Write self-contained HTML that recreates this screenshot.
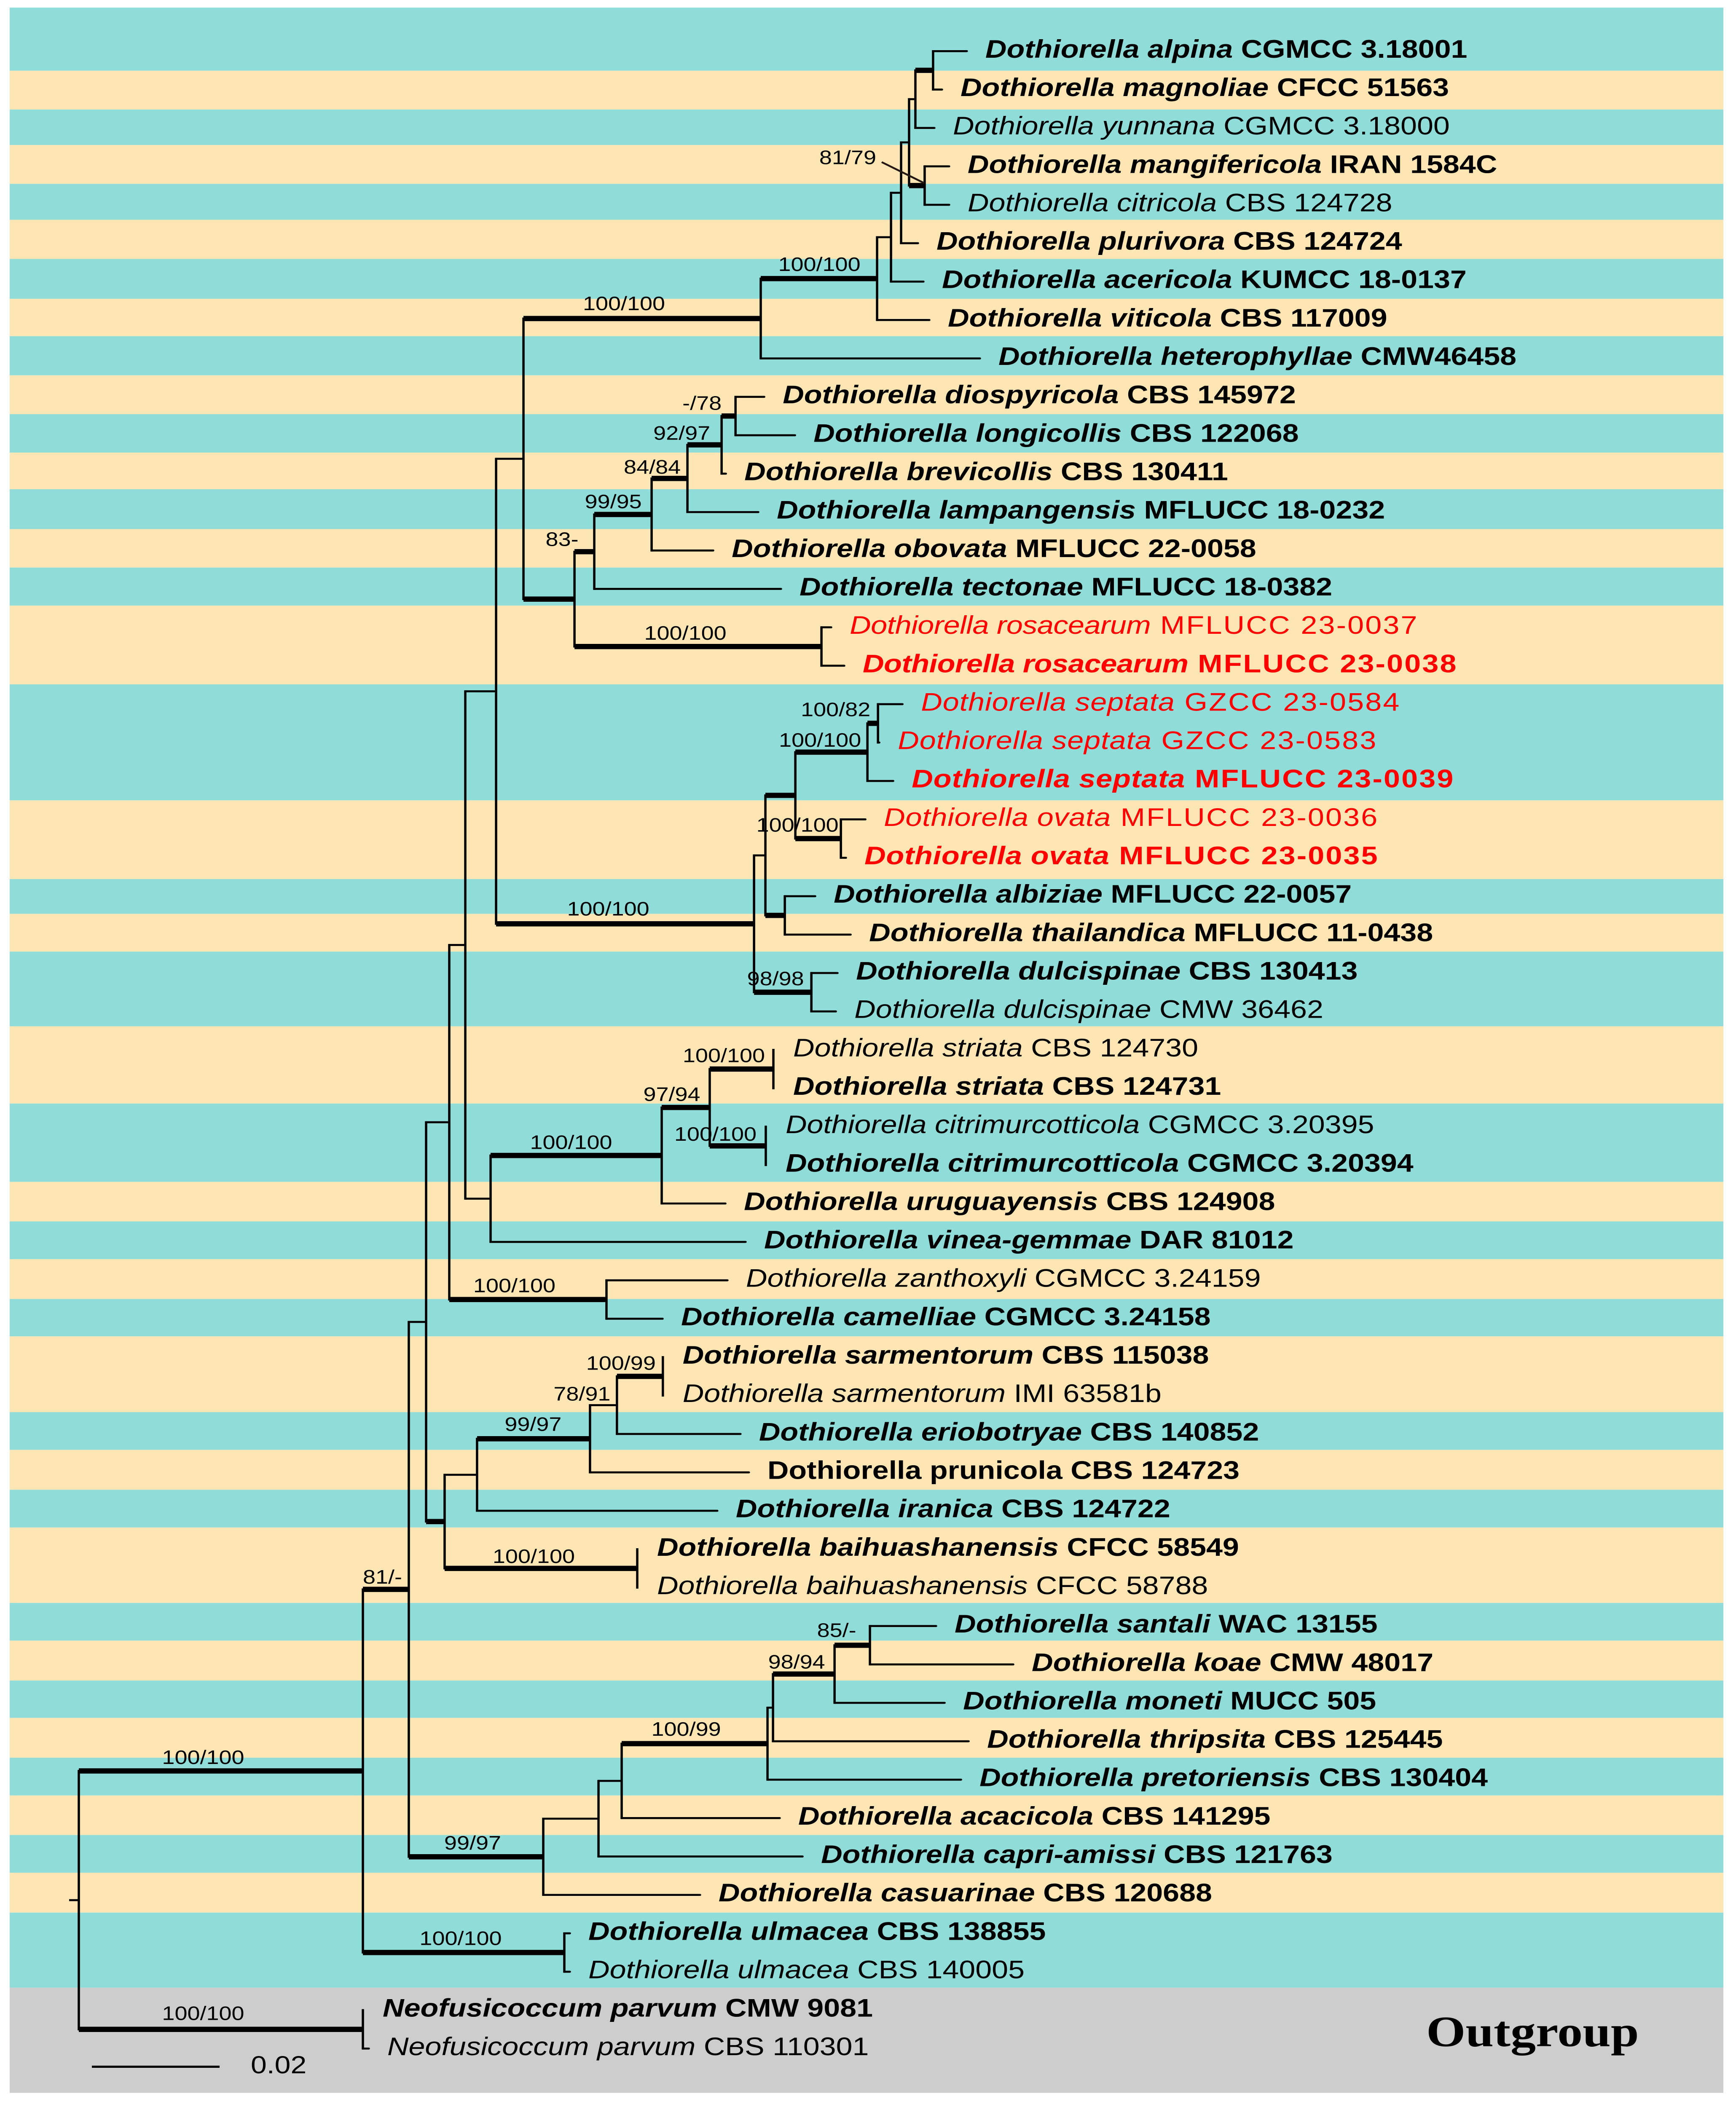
<!DOCTYPE html>
<html lang="en">
<head>
<meta charset="utf-8">
<title>Dothiorella phylogenetic tree</title>
<style>
html,body{margin:0;padding:0;background:#fff;width:4119px;height:100vh;overflow:hidden}
svg{display:block;position:absolute;left:0;top:0;width:4119px;height:100vh}
.t{fill:#8fdcd8}.c{fill:#fee6b4}.g{fill:#cdcdcd}
text{font-family:"Liberation Sans",sans-serif}
</style>
</head>
<body>
<svg id="chart" xmlns="http://www.w3.org/2000/svg" viewBox="0 0 4119 5810" preserveAspectRatio="none">
<rect width="4119" height="5810" fill="#fff"/>
<g>
<rect class="t" x="23" width="4066" y="21" height="174"/>
<rect class="c" x="23" width="4066" y="195" height="107"/>
<rect class="t" x="23" width="4066" y="302" height="98"/>
<rect class="c" x="23" width="4066" y="400" height="107"/>
<rect class="t" x="23" width="4066" y="507" height="99"/>
<rect class="c" x="23" width="4066" y="606" height="108"/>
<rect class="t" x="23" width="4066" y="714" height="110"/>
<rect class="c" x="23" width="4066" y="824" height="103"/>
<rect class="t" x="23" width="4066" y="927" height="108"/>
<rect class="c" x="23" width="4066" y="1035" height="107"/>
<rect class="t" x="23" width="4066" y="1142" height="106"/>
<rect class="c" x="23" width="4066" y="1248" height="101"/>
<rect class="t" x="23" width="4066" y="1349" height="110"/>
<rect class="c" x="23" width="4066" y="1459" height="106"/>
<rect class="t" x="23" width="4066" y="1565" height="105"/>
<rect class="c" x="23" width="4066" y="1670" height="217"/>
<rect class="t" x="23" width="4066" y="1887" height="320"/>
<rect class="c" x="23" width="4066" y="2207" height="217"/>
<rect class="t" x="23" width="4066" y="2424" height="96"/>
<rect class="c" x="23" width="4066" y="2520" height="104"/>
<rect class="t" x="23" width="4066" y="2624" height="206"/>
<rect class="c" x="23" width="4066" y="2830" height="213"/>
<rect class="t" x="23" width="4066" y="3043" height="216"/>
<rect class="c" x="23" width="4066" y="3259" height="109"/>
<rect class="t" x="23" width="4066" y="3368" height="104"/>
<rect class="c" x="23" width="4066" y="3472" height="110"/>
<rect class="t" x="23" width="4066" y="3582" height="103"/>
<rect class="c" x="23" width="4066" y="3685" height="209"/>
<rect class="t" x="23" width="4066" y="3894" height="104"/>
<rect class="c" x="23" width="4066" y="3998" height="110"/>
<rect class="t" x="23" width="4066" y="4108" height="104"/>
<rect class="c" x="23" width="4066" y="4212" height="208"/>
<rect class="t" x="23" width="4066" y="4420" height="104"/>
<rect class="c" x="23" width="4066" y="4524" height="110"/>
<rect class="t" x="23" width="4066" y="4634" height="103"/>
<rect class="c" x="23" width="4066" y="4737" height="110"/>
<rect class="t" x="23" width="4066" y="4847" height="104"/>
<rect class="c" x="23" width="4066" y="4951" height="109"/>
<rect class="t" x="23" width="4066" y="5060" height="104"/>
<rect class="c" x="23" width="4066" y="5164" height="110"/>
<rect class="t" x="23" width="4066" y="5274" height="207"/>
<rect class="g" x="23" width="4066" y="5481" height="290"/>
</g>
<g id="tree"></g>
<g id="supports"></g>
<g id="taxa"></g>
<line x1="2092" y1="447" x2="2193" y2="505" stroke="#231815" stroke-width="5"/>
<line x1="218" y1="5699" x2="521" y2="5699" stroke="#000" stroke-width="6"/>
<text x="595" y="5717" font-size="68" fill="#000">0.02</text>
<text x="3384" y="5642" font-size="120" font-weight="700" fill="#000" style="font-family:'Liberation Serif',serif">Outgroup</text>
</svg>
<script>
// ---- Taxa, top to bottom ----
const taxonNames = [
"Dothiorella alpina","Dothiorella magnoliae","Dothiorella yunnana","Dothiorella mangifericola","Dothiorella citricola","Dothiorella plurivora","Dothiorella acericola","Dothiorella viticola","Dothiorella heterophyllae","Dothiorella diospyricola","Dothiorella longicollis","Dothiorella brevicollis","Dothiorella lampangensis","Dothiorella obovata","Dothiorella tectonae","Dothiorella rosacearum","Dothiorella rosacearum","Dothiorella septata","Dothiorella septata","Dothiorella septata","Dothiorella ovata","Dothiorella ovata","Dothiorella albiziae","Dothiorella thailandica","Dothiorella dulcispinae","Dothiorella dulcispinae","Dothiorella striata","Dothiorella striata","Dothiorella citrimurcotticola","Dothiorella citrimurcotticola","Dothiorella uruguayensis","Dothiorella vinea-gemmae","Dothiorella zanthoxyli","Dothiorella camelliae","Dothiorella sarmentorum","Dothiorella sarmentorum","Dothiorella eriobotryae","Dothiorella prunicola","Dothiorella iranica","Dothiorella baihuashanensis","Dothiorella baihuashanensis","Dothiorella santali","Dothiorella koae","Dothiorella moneti","Dothiorella thripsita","Dothiorella pretoriensis","Dothiorella acacicola","Dothiorella capri-amissi","Dothiorella casuarinae","Dothiorella ulmacea","Dothiorella ulmacea","Neofusicoccum parvum","Neofusicoccum parvum"];
const strainCodes = [
"CGMCC 3.18001","CFCC 51563","CGMCC 3.18000","IRAN 1584C","CBS 124728","CBS 124724","KUMCC 18-0137","CBS 117009","CMW46458","CBS 145972","CBS 122068","CBS 130411","MFLUCC 18-0232","MFLUCC 22-0058","MFLUCC 18-0382","MFLUCC 23-0037","MFLUCC 23-0038","GZCC 23-0584","GZCC 23-0583","MFLUCC 23-0039","MFLUCC 23-0036","MFLUCC 23-0035","MFLUCC 22-0057","MFLUCC 11-0438","CBS 130413","CMW 36462","CBS 124730","CBS 124731","CGMCC 3.20395","CGMCC 3.20394","CBS 124908","DAR 81012","CGMCC 3.24159","CGMCC 3.24158","CBS 115038","IMI 63581b","CBS 140852","CBS 124723","CBS 124722","CFCC 58549","CFCC 58788","WAC 13155","CMW 48017","MUCC 505","CBS 125445","CBS 130404","CBS 141295","CBS 121763","CBS 120688","CBS 138855","CBS 140005","CMW 9081","CBS 110301"];
// Row numbers (0-based) that fall into each category
const typeStrainRows = [0,1,3,5,6,7,8,9,10,11,12,13,14,16,19,21,22,23,24,27,29,30,31,33,34,36,37,38,39,41,42,43,44,45,46,47,48,49,51];
const newCollectionRows = [15,16,17,18,19,20,21];
const uprightNameRows = [37];
// Parent internal node and branch length (substitutions/site) of every taxon
const taxonParents = ["A","A","B","D","D","E","F","G","H","P","P","O","N","M","K","L","L","Z","Z","X","Y","Y","W","W","U","U","AH","AH","AI","AI","AF","AA","AC","AC","AK","AK","AL","AM","AN","AP","AP","AS","AS","AT","AU","AV","AW","AX","AR","AZ","AZ","BB","BB"];
const taxonLengths = [0.00528,0.00139,0.00297,0.00383,0.00383,0.00264,0.00508,0.00818,0.03432,0.00449,0.00931,0.00066,0.01109,0.00964,0.02924,0.00152,0.00356,0.00383,0.00020,0.00403,0.00383,0.00079,0.00475,0.01030,0.00409,0.00383,0,0,0,0,0.00997,0.03993,0.01894,0.00878,0,0,0.01934,0.02488,0.03762,0,0,0.01036,0.02244,0.01723,0.03063,0.03030,0.02475,0.03195,0.02455,0.00086,0.00086,0,0.00092];
// ---- Internal nodes ----
const nodeIds =     ["BA","BB","AQ","AZ","AD","AR","AB","AO","S","AC","Q","AA","I","R","H","J","G","F","E","C","B","A","D","K","L","M","N","O","P","T","U","V","W","X","Y","Z","AF","AG","AH","AI","AN","AP","AM","AL","AK","AX","AW","AV","AU","AT","AS"];
const nodeParents = ["root","root","BA","BA","AQ","AQ","AD","AD","AB","AB","S","S","Q","Q","I","I","H","G","F","E","C","B","C","J","J","K","M","N","O","R","R","T","T","V","V","X","AA","AF","AG","AG","AO","AO","AN","AM","AL","AR","AX","AW","AV","AU","AT"];
const nodeLengths = [0.04449,0.04449,0.00719,0.03155,0.00271,0.02106,0.00363,0.00290,0.00251,0.02462,0.00482,0.00396,0.00429,0.04040,0.03716,0.00799,0.01822,0.00218,0.00158,0.00125,0.00099,0.00277,0.00244,0.00310,0.03868,0.00898,0.00561,0.00535,0.00218,0.00178,0.00898,0.00469,0.00304,0.01129,0.00713,0.00165,0.02680,0.00752,0.00997,0.00878,0.00508,0.03017,0.01769,0.00422,0.00719,0.00865,0.00363,0.02284,0.00086,0.00964,0.00554];
// Strongly supported branches drawn heavy
const heavyBranches = ["BA","BB","AQ","AZ","AR","AC","AO","H","J","G","A","D","K","L","M","N","O","P","R","U","V","W","X","Y","Z","AF","AG","AH","AI","AM","AK","AP","AV","AT","AS"];
// Support values (ML/BI)
const supportNodes =  ["H","G","D","P","O","N","M","K","L","Z","X","Y","R","U","AH","AG","AI","AF","AC","AK","AL","AM","AP","AQ","AS","AT","AV","AR","BA","AZ","BB"];
const supportValues = ["100/100","100/100","81/79","-/78","92/97","84/84","99/95","83-","100/100","100/82","100/100","100/100","100/100","98/98","100/100","97/94","100/100","100/100","100/100","100/99","78/91","99/97","100/100","81/-","85/-","98/94","100/99","99/97","100/100","100/100","100/100"];

// ---- Layout constants and axis functions ----
const ROOT_X = 187, PX_PER_UNIT = 15150, FIRST_ROW_Y = 141, ROW_STEP = 105.92;
const xScale = function (depth) { return ROOT_X + depth * PX_PER_UNIT; };
const yScale = function (row) { return FIRST_ROW_Y + row * ROW_STEP; };
const SVG_NS = "http://www.w3.org/2000/svg";
// Hand placement of support labels relative to their branch midpoint [dx, dy]
const labelNudge = {H:[-43,-23],G:[1,-21],D:[-164,-59],P:[-63,-17],O:[-54,-14],N:[-41,-13],M:[-23,-17],K:[-53,-16],L:[-30,-19],Z:[-88,-20],X:[-27,-15],Y:[-49,-19],R:[-40,-23],U:[-17,-19],AH:[-42,-19],AG:[-33,-18],AI:[-53,-14],AF:[-12,-18],AC:[-32,-20],AK:[-45,-18],AL:[-51,-13],AM:[-1,-22],AP:[-17,-15],AQ:[-8,-16],AS:[-37,-23],AT:[-17,-15],AV:[-20,-22],AR:[-8,-20],BA:[-42,-19],AZ:[-7,-21],BB:[-42,-26]};
// Typographic tracking of the highlighted (new collection) labels
const nameTracking = {"Dothiorella rosacearum": -0.43, "Dothiorella septata": 1, "Dothiorella ovata": 0.8};
const STRAIN_TRACKING = 3.2;

const parentOf = {}, lengthOf = {}, children = {root: []};
nodeIds.forEach(function (id, i) {
  parentOf[id] = nodeParents[i];
  lengthOf[id] = nodeLengths[i];
  children[id] = children[id] || [];
});
nodeIds.forEach(function (id) { children[parentOf[id]].push({node: id}); });
taxonParents.forEach(function (p, row) { children[p].push({row: row}); });

function depthOf(id) { return id === "root" ? 0 : depthOf(parentOf[id]) + lengthOf[id]; }
function yOf(id) {
  const ys = children[id].map(function (c) { return c.node ? yOf(c.node) : yScale(c.row); });
  return (Math.min.apply(null, ys) + Math.max.apply(null, ys)) / 2;
}

const tree = document.getElementById("tree");
const supports = document.getElementById("supports");
const taxa = document.getElementById("taxa");

function addLine(x1, y1, x2, y2, w, cap) {
  const el = document.createElementNS(SVG_NS, "line");
  el.setAttribute("x1", x1);
  el.setAttribute("y1", y1);
  el.setAttribute("x2", x2);
  el.setAttribute("y2", y2);
  el.setAttribute("stroke", "#000");
  el.setAttribute("stroke-width", w);
  el.setAttribute("stroke-linecap", cap);
  tree.appendChild(el);
  return el;
}

// Connector (vertical) of every internal node
["root"].concat(nodeIds).forEach(function (id) {
  const x = xScale(depthOf(id));
  const ys = children[id].map(function (c) { return c.node ? yOf(c.node) : yScale(c.row); });
  const el = addLine(x, Math.min.apply(null, ys), x, Math.max.apply(null, ys), 5.5, "square");
  
  
});
// Root stub
const rootStub = addLine(xScale(0) - 23, yOf("root"), xScale(0), yOf("root"), 5.5, "butt");



// Internal branches
nodeIds.forEach(function (id) {
  const heavy = heavyBranches.indexOf(id) >= 0;
  const y = yOf(id);
  const el = addLine(xScale(depthOf(parentOf[id])), y, xScale(depthOf(id)), y, heavy ? 14.5 : 5.5, "butt");
  
  
});

// Tip branches and taxon labels
taxonNames.forEach(function (name, row) {
  const px = xScale(depthOf(taxonParents[row]));
  const tx = px + taxonLengths[row] * PX_PER_UNIT;
  const y = yScale(row);
  if (taxonLengths[row] > 0) {
    const tip = addLine(px, y, tx, y, 5.5, "round");
    
    
  }
  const isType = typeStrainRows.indexOf(row) >= 0;
  const isNew = newCollectionRows.indexOf(row) >= 0;
  const upright = uprightNameRows.indexOf(row) >= 0;
  const label = document.createElementNS(SVG_NS, "text");
  label.setAttribute("x", tx + (taxonLengths[row] > 0 ? 44 : 47));
  label.setAttribute("y", y + 18);
  label.setAttribute("font-size", "70");
  label.setAttribute("font-weight", isType ? "700" : "400");
  label.setAttribute("fill", isNew ? "#ff0000" : "#000");
  
  
  const nameSpan = document.createElementNS(SVG_NS, "tspan");
  nameSpan.setAttribute("font-style", upright ? "normal" : "italic");
  if (isNew) { nameSpan.setAttribute("letter-spacing", nameTracking[name]); }
  nameSpan.textContent = name;
  const codeSpan = document.createElementNS(SVG_NS, "tspan");
  if (isNew) { codeSpan.setAttribute("letter-spacing", STRAIN_TRACKING); }
  codeSpan.textContent = " " + strainCodes[row];
  label.appendChild(nameSpan);
  label.appendChild(codeSpan);
  label.setAttributeNS("http://www.w3.org/XML/1998/namespace", "xml:space", "preserve");
  taxa.appendChild(label);
});

// Support labels
supportNodes.forEach(function (id, i) {
  const start = xScale(depthOf(parentOf[id]));
  const end = xScale(depthOf(id));
  const nudge = labelNudge[id];
  const el = document.createElementNS(SVG_NS, "text");
  el.setAttribute("x", (start + end) / 2 + nudge[0]);
  el.setAttribute("y", yOf(id) + nudge[1]);
  el.setAttribute("text-anchor", "middle");
  el.setAttribute("font-size", "54");
  el.setAttribute("fill", "#000");
  
  
  el.textContent = supportValues[i];
  supports.appendChild(el);
});
</script>
</body>
</html>
